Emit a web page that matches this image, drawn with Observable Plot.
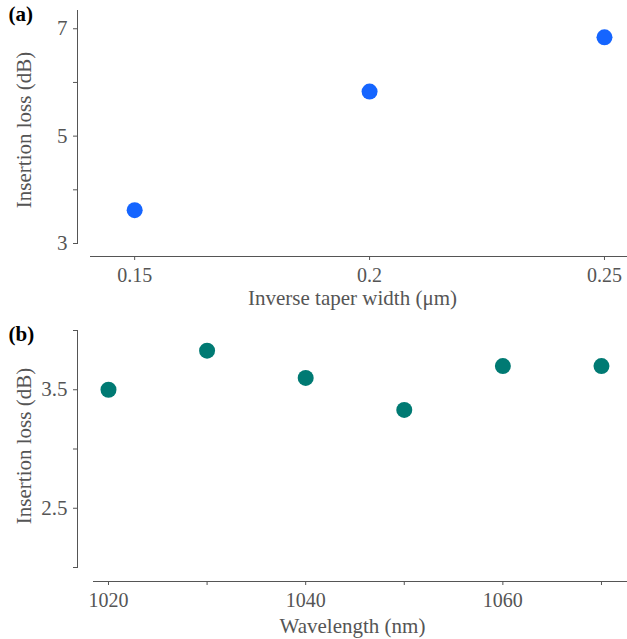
<!DOCTYPE html>
<html><head><meta charset="utf-8">
<script src="https://cdn.jsdelivr.net/npm/d3@7"></script>
<script src="https://cdn.jsdelivr.net/npm/@observablehq/plot@0.6"></script>
<style>
body{margin:0;background:#fff;}
#wrap{width:627px;height:639px;position:relative;overflow:hidden;}
#wrap svg{display:block;}
</style></head><body><div id="wrap"></div>
<script>
// Panel (a)
const taperWidths = [0.15, 0.2, 0.25];
const lossA = [3.62, 5.83, 6.84];
const xTicksA = [0.15, 0.2, 0.25];
const yTicksA = [3, 4, 5, 6, 7];
const yLabelsA = [3, 5, 7];
// Panel (b)
const wavelengths = [1020, 1030, 1040, 1050, 1060, 1070];
const lossB = [3.5, 3.83, 3.6, 3.33, 3.7, 3.7];
const xTicksB = [1020, 1030, 1040, 1050, 1060, 1070];
const xLabelsB = [1020, 1040, 1060];
const yTicksB = [2, 2.5, 3, 3.5, 4];
const yLabelsB = [2.5, 3.5];

const dataA = taperWidths.map((w, i) => ({w, loss: lossA[i]}));
const dataB = wavelengths.map((w, i) => ({w, loss: lossB[i]}));

const FONT = "'Liberation Serif', 'DejaVu Serif', serif";
const GRAY = "#555";

function panel({data, xDomain, yDomain, xTicks, xLabels, yTicks, yLabels, xTitle, letter, color,
                height, marginTop, marginBottom, insetLeft, insetBottom, yTitleDy, xTitleDy}) {
  const fmtX = d => xLabels.some(v => Math.abs(v - d) < 1e-9) ? String(d) : "";
  const fmtY = d => yLabels.some(v => Math.abs(v - d) < 1e-9) ? String(d) : "";
  return Plot.plot({
    width: 627, height,
    marginLeft: 77, marginRight: 0, marginTop, marginBottom,
    insetLeft, insetBottom,
    style: {fontFamily: FONT, fontSize: "21px", color: GRAY, background: "white", overflow: "visible"},
    x: {domain: xDomain},
    y: {domain: yDomain},
    marks: [
      Plot.frame({anchor: "left", insetBottom, stroke: GRAY}),
      Plot.frame({anchor: "bottom", insetLeft, stroke: GRAY}),
      Plot.axisY({ticks: yTicks, tickFormat: fmtY, tickSize: 4, tickPadding: 6, label: null, fontSize: 21}),
      Plot.axisX({ticks: xTicks, tickFormat: fmtX, tickSize: 4, tickPadding: 7, label: null, fontSize: 20}),
      Plot.dot(data, {x: "w", y: "loss", r: 8, fill: color, stroke: null}),
      Plot.text([xTitle], {frameAnchor: "bottom", textAnchor: "middle", lineAnchor: "middle", dy: xTitleDy, fontSize: 21, fill: GRAY}),
      Plot.text(["Insertion loss (dB)"], {frameAnchor: "left", textAnchor: "middle", lineAnchor: "middle", rotate: -90, dx: -53, dy: yTitleDy, fontSize: 21, fill: GRAY}),
      Plot.text([letter], {frameAnchor: "top-left", textAnchor: "start", lineAnchor: "top", dx: -69, dy: -4,
                           fontSize: 21, fontWeight: "bold", fill: "black"})
    ]
  });
}

const wrap = document.getElementById("wrap");
wrap.appendChild(panel({
  data: dataA, xDomain: [0.1406, 0.2549], yDomain: [3, 7.34],
  xTicks: xTicksA, xLabels: xTicksA, yTicks: yTicksA, yLabels: yLabelsA,
  xTitle: "Inverse taper width (μm)", letter: "(a)", color: "#1565ff",
  height: 318, marginTop: 10, marginBottom: 62, insetLeft: 13, insetBottom: 13, yTitleDy: -3.5, xTitleDy: 42
}));
wrap.appendChild(panel({
  data: dataB, xDomain: [1018.48, 1072.64], yDomain: [2, 4],
  xTicks: xTicksB, xLabels: xLabelsB, yTicks: yTicksB, yLabels: yLabelsB,
  xTitle: "Wavelength (nm)", letter: "(b)", color: "#007a73",
  height: 321, marginTop: 12, marginBottom: 58, insetLeft: 16, insetBottom: 14, yTitleDy: -10, xTitleDy: 45
}));
</script></body></html>
